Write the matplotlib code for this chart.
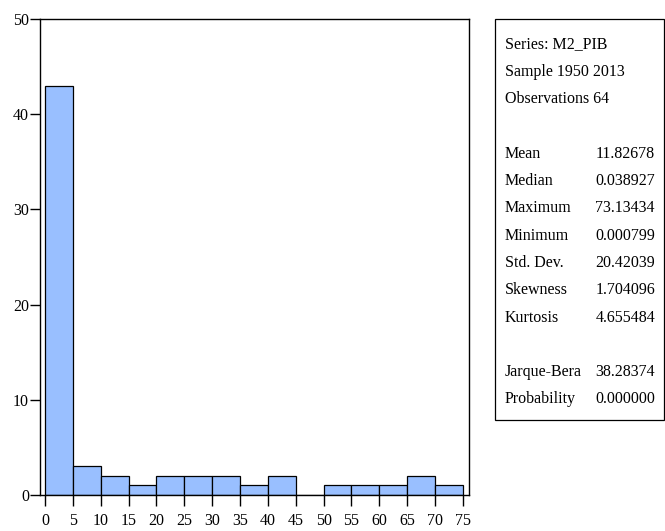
import matplotlib
matplotlib.use("Agg")
import matplotlib.pyplot as plt
from matplotlib.patches import Rectangle

# Histogram of M2_PIB, bins of width 5
bin_edges = [0, 5, 10, 15, 20, 25, 30, 35, 40, 45, 50, 55, 60, 65, 70, 75]
counts = [43, 3, 2, 1, 2, 2, 2, 1, 2, 0, 1, 1, 1, 2, 1]

x_ticks = [0, 5, 10, 15, 20, 25, 30, 35, 40, 45, 50, 55, 60, 65, 70, 75]
y_ticks = [0, 10, 20, 30, 40, 50]

header_lines = ["Series: M2_PIB", "Sample 1950 2013", "Observations 64"]
stat_names = ["Mean", "Median", "Maximum", "Minimum", "Std. Dev.",
              "Skewness", "Kurtosis"]
stat_values = ["11.82678", "0.038927", "73.13434", "0.000799", "20.42039",
               "1.704096", "4.655484"]
test_names = ["Jarque-Bera", "Probability"]
test_values = ["38.28374", "0.000000"]

plt.rcParams["font.family"] = ["Liberation Serif", "DejaVu Serif"]
FS = 11.5

W, H = 665, 531
fig = plt.figure(figsize=(W / 100, H / 100), dpi=100)
ax = fig.add_axes([40 / W, 1 - 495 / H, 429 / W, 476 / H])

widths = [bin_edges[i + 1] - bin_edges[i] for i in range(len(counts))]
ax.bar(bin_edges[:-1], counts, width=widths, align="edge",
       color="#99BFFF", edgecolor="black", linewidth=0.9)

ax.set_xlim(-0.9, 76.1)
ax.set_ylim(0, 50)
ax.set_xticks(x_ticks)
ax.set_yticks(y_ticks)
ax.tick_params(axis="x", direction="out", length=8, width=1, labelsize=FS, pad=5)
ax.tick_params(axis="y", direction="out", length=7, width=1, labelsize=FS, pad=1)
for s in ax.spines.values():
    s.set_linewidth(1.0)
    s.set_color("black")

# Statistics panel
bx0, bx1 = 495 / W, 664 / W
by0, by1 = 1 - 420 / H, 1 - 19 / H
fig.add_artist(Rectangle((bx0, by0), bx1 - bx0, by1 - by0,
                         transform=fig.transFigure, fill=False,
                         edgecolor="black", linewidth=0.9))

tx = 505 / W
vx = 655 / W
line_h = 27.3
base0 = 48.5


def row_y(r):
    return 1 - (base0 + r * line_h) / H


for r, t in enumerate(header_lines):
    fig.text(tx, row_y(r), t, fontsize=FS, va="baseline", ha="left")

for k, (n, v) in enumerate(zip(stat_names, stat_values)):
    y = row_y(4 + k)
    fig.text(tx, y, n, fontsize=FS, va="baseline", ha="left")
    fig.text(vx, y, v, fontsize=FS, va="baseline", ha="right")

for k, (n, v) in enumerate(zip(test_names, test_values)):
    y = row_y(12 + k)
    fig.text(tx, y, n, fontsize=FS, va="baseline", ha="left")
    fig.text(vx, y, v, fontsize=FS, va="baseline", ha="right")

fig.savefig("out.png", dpi=100)
